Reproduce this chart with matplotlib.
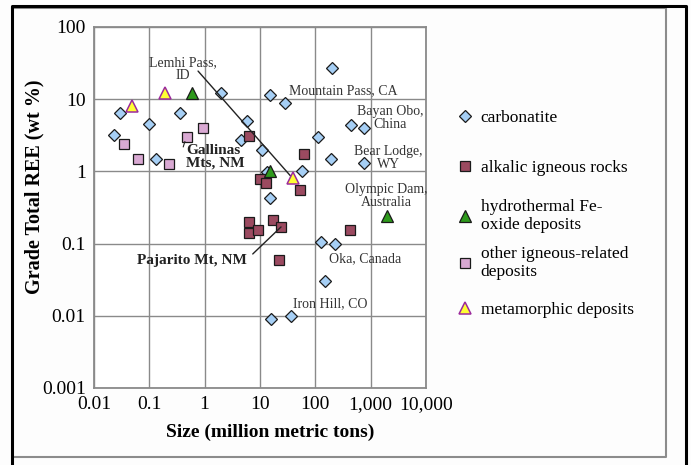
import numpy as np
import matplotlib.pyplot as plt
from matplotlib.lines import Line2D

plt.rcParams['font.family'] = ['Liberation Serif', 'DejaVu Serif']

# carbonatite deposits (size in Mt, grade in wt %)
carb_size = [0.023, 0.03, 0.1, 0.13, 0.36, 2.0, 5.8, 4.5, 11, 13.2, 15, 28, 200,
             110, 190, 57, 15, 450, 750, 750, 125, 225, 150, 16, 36]
carb_grade = [3.2, 6.4, 4.5, 1.5, 6.4, 12.3, 5.0, 2.7, 2.0, 0.99, 11.4, 8.8, 27,
              3.0, 1.5, 1.0, 0.43, 4.4, 4.0, 1.3, 0.105, 0.10, 0.03, 0.009, 0.010]

# alkalic igneous rocks
alk_size = [6.4, 9.8, 13, 63, 52, 6.2, 6.4, 9.1, 17, 24, 22, 430]
alk_grade = [3.1, 0.78, 0.70, 1.75, 0.56, 0.20, 0.142, 0.155, 0.21, 0.17, 0.06, 0.155]

# hydrothermal Fe-oxide deposits
hyd_size = [0.6, 15, 2000]
hyd_grade = [12, 1.0, 0.24]

# other igneous-related deposits
oth_size = [0.035, 0.063, 0.23, 0.47, 0.95]
oth_grade = [2.4, 1.5, 1.25, 3.0, 4.0]

# metamorphic deposits
met_size = [0.048, 0.19, 39]
met_grade = [8.1, 12.3, 0.8]

x_ticks = [0.01, 0.1, 1, 10, 100, 1000, 10000]
x_labels = ['0.01', '0.1', '1', '10', '100', '1,000', '10,000']
y_ticks = [0.001, 0.01, 0.1, 1, 10, 100]
y_labels = ['0.001', '0.01', '0.1', '1', '10', '100']

fig = plt.figure(figsize=(6.91, 4.65), dpi=100)
fig.patch.set_facecolor('#fdfdfd')
ax = fig.add_axes([0.136, 0.1656, 0.4805, 0.7764])
ax.set_facecolor('white')

ax.plot(carb_size, carb_grade, 'D', ms=6.5, mfc='#a6cff5', mec='#1a1a1a', mew=0.9,
        ls='none', label='carbonatite', zorder=3)
ax.plot(alk_size, alk_grade, 's', ms=7.5, mfc='#9b4a60', mec='#1a1a1a', mew=0.9,
        ls='none', label='alkalic igneous rocks', zorder=3)
ax.plot(hyd_size, hyd_grade, '^', ms=8.5, mfc='#2e9a1c', mec='#1a1a1a', mew=0.9,
        ls='none', label='hydrothermal Fe-\noxide deposits', zorder=4)
ax.plot(oth_size, oth_grade, 's', ms=7.5, mfc='#d9a9d3', mec='#1a1a1a', mew=0.9,
        ls='none', label='other igneous-related\ndeposits', zorder=3)
ax.plot(met_size, met_grade, '^', ms=8.5, mfc='#ffff33', mec='#9c2a9c', mew=1.1,
        ls='none', label='metamorphic deposits', zorder=5)

ax.set_xscale('log')
ax.set_yscale('log')
ax.set_xlim(0.01, 10000)
ax.set_ylim(0.001, 100)
ax.set_xticks(x_ticks)
ax.set_xticklabels(x_labels)
ax.set_yticks(y_ticks)
ax.set_yticklabels(y_labels)
ax.minorticks_off()
ax.tick_params(length=0, labelsize=14, pad=6)
ax.grid(True, color='#8a8a8a', lw=1.0)
for s in ax.spines.values():
    s.set_color('#8a8a8a')
    s.set_linewidth(1.3)

ax.set_xlabel('Size (million metric tons)', fontsize=14, fontweight='bold', va='center')
ax.set_ylabel('Grade Total REE (wt %)', fontsize=14.5, fontweight='bold', va='center')
ax.xaxis.set_label_coords(0.53, -0.122)
ax.yaxis.set_label_coords(-0.178, 0.557)

# deposit names
tc = '#333333'
ax.text(0.41, 26.2, 'Lemhi Pass,\nID', fontsize=10, ha='center', va='center',
        multialignment='center', linespacing=0.95, color=tc)
ax.annotate('', xy=(39, 0.8), xytext=(0.76, 24.5),
            arrowprops=dict(arrowstyle='-', color='#222222', lw=1.0, shrinkA=0, shrinkB=0))
ax.text(33, 13.1, 'Mountain Pass, CA', fontsize=10, ha='left', va='center', color=tc)
ax.text(2250, 5.5, 'Bayan Obo,\nChina', fontsize=10, ha='center', va='center',
        multialignment='center', linespacing=0.95, color=tc)
ax.text(2080, 1.53, 'Bear Lodge,\nWY', fontsize=10, ha='center', va='center',
        multialignment='center', linespacing=0.95, color=tc)
ax.text(1900, 0.456, 'Olympic Dam,\nAustralia', fontsize=10, ha='center', va='center',
        multialignment='center', linespacing=0.95, color=tc)
ax.text(178, 0.061, 'Oka, Canada', fontsize=10, ha='left', va='center', color=tc)
ax.text(40, 0.0146, 'Iron Hill, CO', fontsize=10, ha='left', va='center', color=tc)
ax.text(0.46, 1.58, 'Gallinas\nMts, NM', fontsize=11, fontweight='bold', ha='left',
        va='center', linespacing=0.95, color='#222222')
ax.annotate('', xy=(0.44, 2.6), xytext=(0.41, 2.18),
            arrowprops=dict(arrowstyle='-', color='#222222', lw=0.8, shrinkA=0, shrinkB=0))
ax.text(0.06, 0.0575, 'Pajarito Mt, NM', fontsize=11, fontweight='bold', ha='left',
        va='center', color='#222222')
ax.annotate('', xy=(24, 0.17), xytext=(7.4, 0.0718),
            arrowprops=dict(arrowstyle='-', color='#222222', lw=1.0, shrinkA=0, shrinkB=0))

# legend, one entry per row so the rows are evenly spaced
handles, labels = ax.get_legend_handles_labels()
row_y = [118, 168, 216, 263, 310]
for h, lab, yp in zip(handles, labels, row_y):
    leg = fig.legend([h], [lab], loc='center left', bbox_to_anchor=(0.664, 1 - yp / 465),
                     frameon=False, fontsize=12.5, handlelength=0.75, handletextpad=0.5,
                     borderpad=0, borderaxespad=0, markerscale=1.0)

# page frame
fig.add_artist(Line2D([12/691, 666/691, 666/691, 14/691], [1-8/465, 1-8/465, 1-457/465, 1-457/465],
                      color='#8c8c8c', lw=1.5))
fig.add_artist(Line2D([12/691, 12/691, 686/691, 686/691], [0, 1-6/465, 1-6/465, 0],
                      color='black', lw=2.2))

fig.savefig('out.png', dpi=100)
